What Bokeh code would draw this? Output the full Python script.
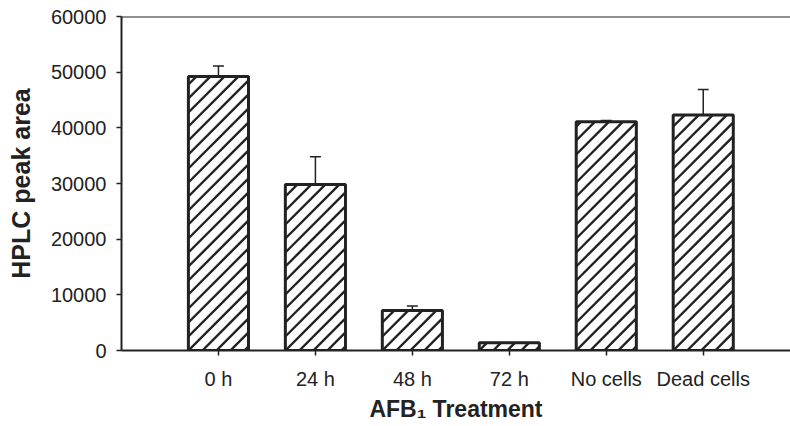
import numpy as np
from bokeh.plotting import figure
from bokeh.models import ColumnDataSource, FixedTicker, Span, Whisker, Range1d, TeeHead
from bokeh.embed import file_html
from bokeh.resources import INLINE

categories = ["0 h", "24 h", "48 h", "72 h", "No cells", "Dead cells"]
values = [49200, 29800, 7200, 1400, 41100, 42300]
errors = [1900, 5000, 800, 0, 200, 4600]
y_ticks = [0, 10000, 20000, 30000, 40000, 50000, 60000]

# layout / style constants
W, H = 790, 426
LEFT, TOP, BOTTOM = 121, 16, 76
X_END, Y_END = 6.9, 60000
BAR_W = 0.62
HATCH_STEP = 14.0  # px, horizontal spacing of the 45-degree hatch lines
ink = "#222222"

xpos = list(range(1, len(categories) + 1))
src = ColumnDataSource(dict(x=xpos, top=values))
ex = [x for x, e in zip(xpos, errors) if e > 0]
ebase = [v for v, e in zip(values, errors) if e > 0]
eup = [v + e for v, e in zip(values, errors) if e > 0]
esrc = ColumnDataSource(dict(x=ex, base=ebase, upper=eup))

# 45-degree "/" hatch lines, clipped to each bar (computed in pixel space)
px_per_x = (W - LEFT) / X_END
px_per_y = (H - TOP - BOTTOM) / Y_END
hx0, hy0, hx1, hy1 = [], [], [], []
for xc, v in zip(xpos, values):
    left = xc - BAR_W / 2
    bw = BAR_W * px_per_x
    bh = v * px_per_y
    for c in np.arange(-np.ceil(bh / HATCH_STEP) * HATCH_STEP, bw, HATCH_STEP):
        u0 = max(0.0, c)
        u1 = min(bw, bh + c)
        if u1 - u0 <= 0.5:
            continue
        hx0.append(left + u0 / px_per_x)
        hy0.append((u0 - c) / px_per_y)
        hx1.append(left + u1 / px_per_x)
        hy1.append((u1 - c) / px_per_y)
hsrc = ColumnDataSource(dict(x0=hx0, y0=hy0, x1=hx1, y1=hy1))

p = figure(width=W, height=H, output_backend="svg", toolbar_location=None,
           x_range=Range1d(0, X_END), y_range=Range1d(0, Y_END),
           min_border_left=LEFT, min_border_top=TOP, min_border_bottom=BOTTOM, min_border_right=0)
p.outline_line_color = None
p.grid.visible = False
p.background_fill_color = "white"
p.border_fill_color = "white"

p.vbar(x="x", top="top", width=BAR_W, bottom=0, source=src,
       fill_color="white", line_color=None)
p.segment(x0="x0", y0="y0", x1="x1", y1="y1", source=hsrc,
          line_color=ink, line_width=2.4)
p.vbar(x="x", top="top", width=BAR_W, bottom=0, source=src,
       fill_color=None, line_color=ink, line_width=3)

w = Whisker(source=esrc, dimension="height", base="x", lower="base", upper="upper",
            line_color=ink, line_width=1.5,
            upper_head=TeeHead(size=11, line_color=ink, line_width=1.5),
            lower_head=None)
p.add_layout(w)

p.add_layout(Span(location=Y_END, dimension="width", line_color=ink, line_width=2))

p.xaxis.ticker = FixedTicker(ticks=xpos)
p.xaxis.major_label_overrides = {x: c for x, c in zip(xpos, categories)}
p.yaxis.ticker = FixedTicker(ticks=y_ticks)
p.yaxis.formatter.use_scientific = False

for ax in (p.xaxis, p.yaxis):
    ax.axis_line_color = ink
    ax.axis_line_width = 2
    ax.major_tick_line_color = ink
    ax.major_tick_line_width = 1.5
    ax.major_tick_in = 0
    ax.major_tick_out = 5
    ax.minor_tick_line_color = None
    ax.major_label_text_font = "Liberation Sans"
    ax.major_label_text_font_size = "20px"
    ax.major_label_text_color = ink
    ax.axis_label_text_font = "Liberation Sans"
    ax.axis_label_text_font_style = "bold"
    ax.axis_label_text_color = ink

p.yaxis.axis_label = "HPLC peak area"
p.yaxis.axis_label_text_font_size = "25px"
p.yaxis.major_label_standoff = 10
p.yaxis.axis_label_standoff = 13

p.xaxis.axis_label = "AFB\u2081 Treatment"
p.xaxis.axis_label_text_font_size = "23px"
p.xaxis.major_label_standoff = 12
p.xaxis.axis_label_standoff = 3

open("out.html", "w").write(file_html(p, INLINE))
